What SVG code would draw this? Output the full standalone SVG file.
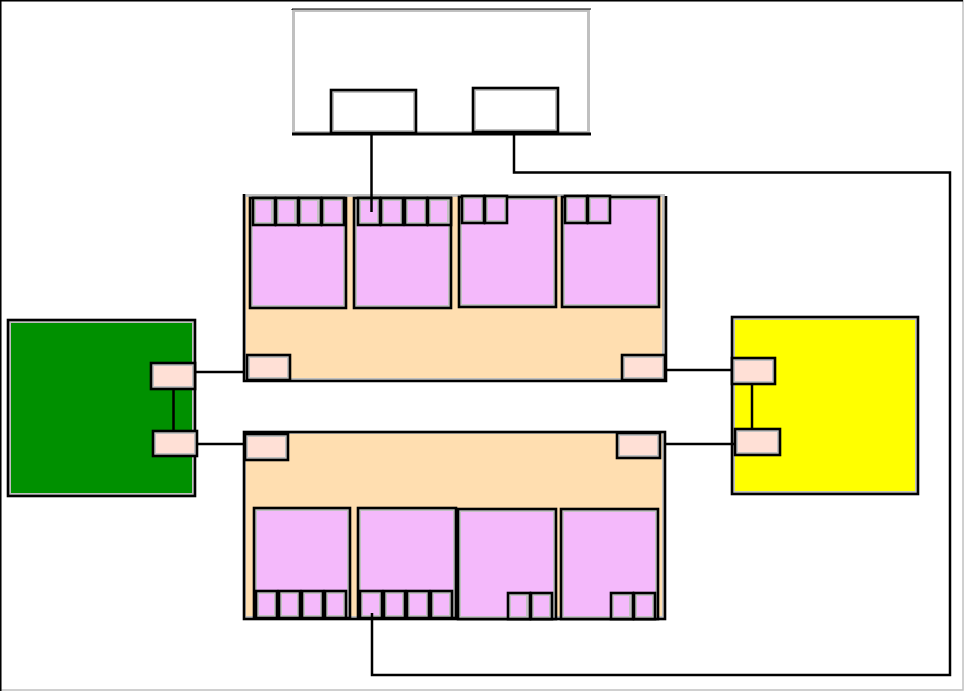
<svg xmlns="http://www.w3.org/2000/svg" width="965" height="692" viewBox="0 0 965 692">
<style>
.g{stroke:#c0c0c0;stroke-width:3}
.k{stroke:#000;stroke-width:2.6;fill:none}
.w{fill:#fff}
.ch{fill:#ffdeb0}
.m{fill:#f4b9fb}
.p{fill:#ffe0d6}
.c{stroke:#000;stroke-width:2.5;fill:none}
</style>
<rect width="965" height="692" fill="#fff"/>
<g id="frame">
<rect x="0.5" y="0.5" width="962.5" height="689.5" fill="none" stroke="#c0c0c0" stroke-width="1.5"/>
<path d="M0.5 691V0.5H963" fill="none" stroke="#000" stroke-width="2"/>
</g>
<g id="top-box">
<rect class="g w" x="293.5" y="10.5" width="295" height="122"/>
<path d="M292 10V9H591" fill="none" stroke="#000" stroke-width="1"/>
<path d="M292 134H591" stroke="#000" stroke-width="3"/>
<g id="top-port-a"><rect class="g w" x="332.5" y="91.5" width="82" height="40"/><rect class="k" x="331" y="90" width="85" height="43"/></g>
<g id="top-port-b"><rect class="g w" x="474.5" y="89.5" width="82" height="41"/><rect class="k" x="473" y="88" width="85" height="44"/></g>
</g>
<g id="upper-chassis">
<rect class="g ch" x="244.5" y="195.5" width="419" height="184"/>
<path d="M244 194V381H666V196" fill="none" stroke="#000" stroke-width="2.6"/>
<g id="u-mod-1"><rect class="g m" x="251.5" y="199.5" width="93" height="107"/><rect class="k" x="250" y="198" width="96" height="110"/>
<rect class="g m" x="254.5" y="199.5" width="18" height="24"/><rect class="k" x="253" y="198" width="22" height="27"/>
<rect class="g m" x="277.5" y="199.5" width="18" height="24"/><rect class="k" x="276" y="198" width="22" height="27"/>
<rect class="g m" x="300.5" y="199.5" width="18" height="24"/><rect class="k" x="299" y="198" width="22" height="27"/>
<rect class="g m" x="323.5" y="199.5" width="19" height="24"/><rect class="k" x="322" y="198" width="22" height="27"/></g>
<g id="u-mod-2"><rect class="g m" x="355.5" y="199.5" width="94" height="107"/><rect class="k" x="354" y="198" width="97" height="110"/>
<rect class="g m" x="359.5" y="199.5" width="19" height="24"/><rect class="k" x="358" y="198" width="22" height="27"/>
<rect class="g m" x="382.5" y="199.5" width="19" height="24"/><rect class="k" x="381" y="198" width="22" height="27"/>
<rect class="g m" x="406.5" y="199.5" width="19" height="24"/><rect class="k" x="405" y="198" width="22" height="27"/>
<rect class="g m" x="429.5" y="199.5" width="19" height="24"/><rect class="k" x="428" y="198" width="23" height="27"/></g>
<g id="u-mod-3"><rect class="g m" x="460.5" y="198.5" width="94" height="107"/><rect class="k" x="459" y="197" width="97" height="110"/>
<rect class="g m" x="463.5" y="197.5" width="19" height="24"/><rect class="k" x="462" y="196" width="22" height="27"/>
<rect class="g m" x="486.5" y="197.5" width="19" height="24"/><rect class="k" x="485" y="196" width="22" height="27"/></g>
<g id="u-mod-4"><rect class="g m" x="563.5" y="198.5" width="94" height="107"/><rect class="k" x="562" y="197" width="97" height="110"/>
<rect class="g m" x="566.5" y="197.5" width="19" height="24"/><rect class="k" x="565" y="196" width="22" height="27"/>
<rect class="g m" x="589.5" y="197.5" width="19" height="24"/><rect class="k" x="588" y="196" width="22" height="27"/></g>
<g id="u-port-left"><rect class="g p" x="248.5" y="356.5" width="40" height="22"/><rect class="k" x="247" y="355" width="43" height="25"/></g>
<g id="u-port-right"><rect class="g p" x="623.5" y="356.5" width="40" height="22"/><rect class="k" x="622" y="355" width="43" height="25"/></g>
</g>
<g id="lower-chassis">
<rect class="g ch" x="244.5" y="432.5" width="419" height="185"/>
<rect class="k" x="244" y="432" width="421" height="187"/>
<g id="l-port-left"><rect class="g p" x="246.5" y="435.5" width="40" height="23"/><rect class="k" x="245" y="434" width="43" height="26"/></g>
<g id="l-port-right"><rect class="g p" x="618.5" y="434.5" width="40" height="22"/><rect class="k" x="617" y="433" width="43" height="25"/></g>
<g id="l-mod-1"><rect class="g m" x="255.5" y="509.5" width="93" height="107"/><rect class="k" x="254" y="508" width="96" height="110"/>
<rect class="g m" x="257.5" y="592.5" width="18" height="24"/><rect class="k" x="256" y="591" width="21" height="27"/>
<rect class="g m" x="280.5" y="592.5" width="18" height="24"/><rect class="k" x="279" y="591" width="21" height="27"/>
<rect class="g m" x="303.5" y="592.5" width="18" height="24"/><rect class="k" x="302" y="591" width="21" height="27"/>
<rect class="g m" x="326.5" y="592.5" width="18" height="24"/><rect class="k" x="325" y="591" width="21" height="27"/></g>
<g id="l-mod-2"><rect class="g m" x="359.5" y="509.5" width="95" height="107"/><rect class="k" x="358" y="508" width="98" height="110"/>
<rect class="g m" x="361.5" y="592.5" width="19" height="24"/><rect class="k" x="360" y="591" width="22" height="27"/>
<rect class="g m" x="385.5" y="592.5" width="18" height="24"/><rect class="k" x="384" y="591" width="21" height="27"/>
<rect class="g m" x="408.5" y="592.5" width="19" height="24"/><rect class="k" x="407" y="591" width="22" height="27"/>
<rect class="g m" x="432.5" y="592.5" width="18" height="24"/><rect class="k" x="431" y="591" width="21" height="27"/></g>
<g id="l-mod-3"><rect class="g m" x="459.5" y="510.5" width="95" height="107"/><rect class="k" x="458" y="509" width="98" height="110"/>
<rect class="g m" x="509.5" y="594.5" width="18" height="23"/><rect class="k" x="508" y="593" width="22" height="26"/>
<rect class="g m" x="532.5" y="594.5" width="18" height="23"/><rect class="k" x="531" y="593" width="21" height="26"/></g>
<g id="l-mod-4"><rect class="g m" x="562.5" y="510.5" width="94" height="107"/><rect class="k" x="561" y="509" width="97" height="110"/>
<rect class="g m" x="612.5" y="594.5" width="18" height="23"/><rect class="k" x="611" y="593" width="22" height="26"/>
<rect class="g m" x="635.5" y="594.5" width="18" height="23"/><rect class="k" x="634" y="593" width="21" height="26"/></g>
</g>
<g id="green-box">
<rect class="g" fill="#009000" x="9.5" y="321.5" width="184" height="173"/><rect class="k" x="8" y="320" width="187" height="176"/>
<g id="g-port-1"><rect class="g p" x="152.5" y="364.5" width="41" height="23"/><rect class="k" x="151" y="363" width="44" height="26"/></g>
<g id="g-port-2"><rect class="g p" x="154.5" y="432.5" width="41" height="22"/><rect class="k" x="153" y="431" width="44" height="25"/></g>
</g>
<g id="yellow-box">
<rect class="g" fill="#ffff00" x="733.5" y="318.5" width="183" height="174"/><rect class="k" x="732" y="317" width="186" height="177"/>
<g id="y-port-1"><rect class="g p" x="733.5" y="359.5" width="40" height="23"/><rect class="k" x="732" y="358" width="43" height="26"/></g>
<g id="y-port-2"><rect class="g p" x="736.5" y="430.5" width="42" height="23"/><rect class="k" x="735" y="429" width="45" height="26"/></g>
</g>
<g id="connectors">
<path class="c" d="M371.5 135V212"/>
<path class="c" d="M514 134V172.5H950V675H372V613"/>
<path class="c" d="M196 372H245"/>
<path class="c" d="M198 444H244"/>
<path class="c" d="M173.5 390V430" stroke-width="3.5"/>
<path class="c" d="M666 370H731"/>
<path class="c" d="M665 444H734"/>
<path class="c" d="M752 385V428" stroke-width="3.5"/>
</g>
</svg>
